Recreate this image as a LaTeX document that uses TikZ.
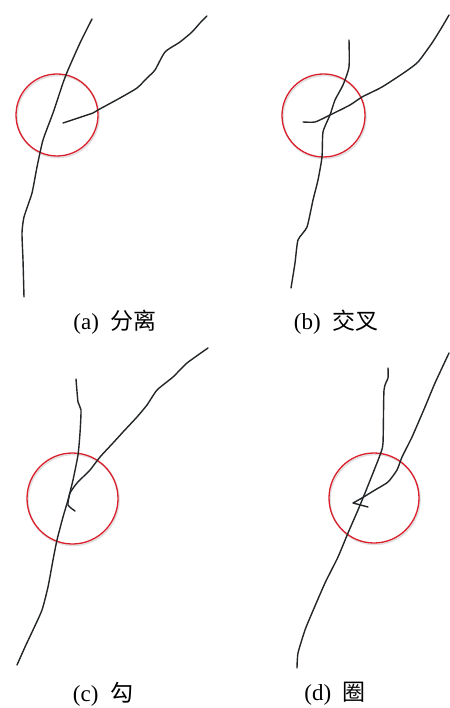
\documentclass[tikz,border=0pt]{standalone}
\usepackage{fontspec}
\setmainfont{Liberation Serif}
\newfontfamily\cjk{Noto Sans CJK SC}
\definecolor{ringred}{RGB}{218,32,44}
\definecolor{ink}{RGB}{35,38,40}
\tikzset{
  stroke/.style={draw=ink, line width=1.4pt, line join=round, line cap=round},
  ring/.style={draw=ringred, line width=1.3pt},
  ringshadow/.style={draw=black!12, line width=1.6pt},
  caption/.style={font=\fontsize{23}{27}\selectfont, inner sep=0pt, anchor=center}
}
\begin{document}
\begin{tikzpicture}[x=1pt,y=-1pt]
\useasboundingbox (0,0) rectangle (449,708);
\fill[white] (0,0) rectangle (449,708);

% ---------- (a) ----------
\draw[ringshadow] (58,116.5) circle (41);
\draw[ring] (57,115) circle (41);
\draw[stroke] plot[smooth, tension=0.35] coordinates {
 (92,19) (80,43) (68,70) (63,83) (53,113) (43,140) (37,167) (32,193) (24,217) (22,233) (23,260) (24,297)};
\draw[stroke] plot[smooth, tension=0.35] coordinates {
 (63,123) (93,113) (98,110) (120,98) (137,88) (147,78) (155,70) (165,52) (180,42) (192,32) (200,23) (207,16)};

% ---------- (b) ----------
\draw[ringshadow] (324.5,117) circle (41.5);
\draw[ring] (323.5,115.5) circle (41.5);
\draw[stroke] plot[smooth, tension=0.35] coordinates {
 (349,40) (349,67) (343,85) (335,100) (330,115) (323,132) (322,157) (318,180) (313,200) (307,227) (298,240) (295,263) (291,288)};
\draw[stroke] plot[smooth, tension=0.35] coordinates {
 (303,122) (315,122) (328,116) (350,105) (362,97) (382,87) (405,72) (418,62) (432,43) (442,27) (449,15)};

% ---------- (c) ----------
\draw[ringshadow] (73.5,500) circle (45.5);
\draw[ring] (72.5,498.5) circle (45.5);
\draw[stroke] plot[smooth, tension=0.35] coordinates {
 (76,379) (78,402) (81,410) (80,433) (78,455) (73,480) (68,500) (63,517) (57,540) (53,560) (48,587) (42,610) (33,630) (25,647) (17,665)};
\draw[stroke] plot[smooth, tension=0.3] coordinates {
 (75,511) (68,505) (70,493) (77,483) (90,470) (100,457) (113,443) (123,432) (137,417) (147,405) (157,390) (173,377) (187,363) (208,348)};

% ---------- (d) ----------
\draw[ringshadow] (375,499.5) circle (45);
\draw[ring] (374,498) circle (45);
\draw[stroke] plot[smooth, tension=0.35] coordinates {
 (388,368) (388,378) (384,390) (383,443) (380,455) (373,473) (365,493) (358,510) (348,533) (338,557) (325,583) (312,613) (305,630) (298,653) (297,668)};
\draw[stroke] (368,507) -- (353,503) -- (362,498);
\draw[stroke] plot[smooth, tension=0.35] coordinates {
 (362,498) (375,490) (388,482) (397,470) (402,457) (412,437) (425,407) (435,383) (449,353)};

% ---------- captions ----------
\node[caption] (capa) at (115,322) {(a)\ \ {\cjk 分离}};
\node[caption] (capb) at (336,322) {(b)\ \ {\cjk 交叉}};
\node[caption] (capc) at (103,694) {(c)\ \ {\cjk 勾}};
\node[caption] (capd) at (335,694) {(d)\ \ {\cjk 圈}};
\end{tikzpicture}
\end{document}
